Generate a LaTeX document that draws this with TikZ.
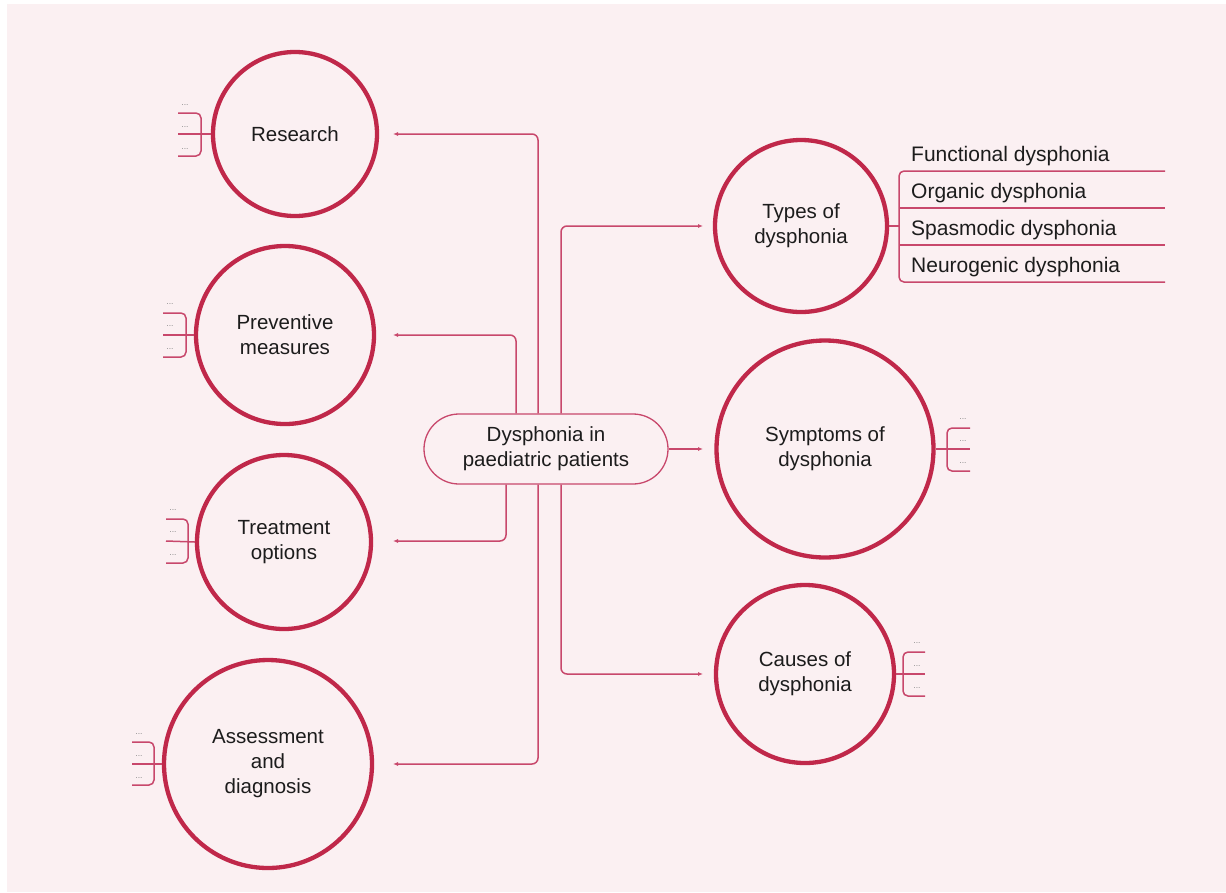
\documentclass[tikz,border=0pt]{standalone}
\usepackage{fontspec}
\setmainfont{Liberation Sans}
\usetikzlibrary{arrows.meta,calc}

\definecolor{bgpink}{RGB}{251,240,242}
\definecolor{ring}{RGB}{192,40,74}
\definecolor{link}{RGB}{200,72,108}
\definecolor{dots}{RGB}{135,135,135}
\definecolor{ink}{RGB}{28,28,28}

\begin{document}
\begin{tikzpicture}[x=1pt,y=-1pt,
  topic/.style={circle,draw=ring,line width=4.3pt,fill=bgpink,align=center,
    inner sep=0pt,text=ink,font=\fontsize{20.5}{25}\selectfont},
  hubbox/.style={rectangle,draw=link,line width=1.3pt,rounded corners=35pt,
    minimum width=244pt,minimum height=70pt,fill=bgpink,align=center,
    text=ink,font=\fontsize{20.5}{25}\selectfont},
  conn/.style={draw=link,line width=1.5pt,rounded corners=6pt,
    -{Latex[length=5pt,width=4pt]}},
  brace/.style={draw=link,line width=1.5pt,rounded corners=5pt},
  more/.style={inner sep=0pt,text=dots,font=\fontsize{8.5}{8.5}\selectfont},
  item/.style={inner sep=0pt,anchor=base west,text=ink,
    font=\fontsize{21}{25}\selectfont}
]
\useasboundingbox (0,0) rectangle (1226,892);
\fill[white] (0,0) rectangle (1226,892);
\fill[bgpink] (7,4) rectangle (1226,892);

% central topic
\node[hubbox] (hub) at (546,449) {Dysphonia in\\paediatric patients};

% main topics
\node[topic,minimum size=164pt] (research)  at (295,134) {Research};
\node[topic,minimum size=178pt] (prevent)   at (285,335) {Preventive\\measures};
\node[topic,minimum size=174pt] (treat)     at (284,542) {Treatment\\options};
\node[topic,minimum size=208pt] (assess)    at (268,764) {Assessment\\and\\diagnosis};
\node[topic,minimum size=172pt] (types)     at (801,226) {Types of\\dysphonia};
\node[topic,minimum size=217pt] (symptoms)  at (825,449) {Symptoms of\\dysphonia};
\node[topic,minimum size=178pt] (causes)    at (805,674) {Causes of\\dysphonia};

% connector end points beside each topic
\coordinate (researchIn) at (393,134);
\coordinate (preventIn)  at (393,335);
\coordinate (treatIn)    at (393,541);
\coordinate (assessIn)   at (393,764);
\coordinate (typesIn)    at (703,226);
\coordinate (symptomsIn) at (703,449);
\coordinate (causesIn)   at (703,674);

% connectors from the central topic
\draw[conn] ($(hub.north)+(-8,0)$)  |- (researchIn);
\draw[conn] ($(hub.north)+(-30,0)$) |- (preventIn);
\draw[conn] ($(hub.south)+(-40,0)$) |- (treatIn);
\draw[conn] ($(hub.south)+(-8,0)$)  |- (assessIn);
\draw[conn] ($(hub.north)+(15,0)$)  |- (typesIn);
\draw[conn] (hub.east) -- (symptomsIn);
\draw[conn] ($(hub.south)+(15,0)$)  |- (causesIn);

% sub-branches of Research
\draw[brace] (178,113) -- (201,113) -- (201,156) -- (178,156);
\draw[brace] (178,134) -- (research.west);
\node[more] (r1) at (185,105) {...};
\node[more] (r2) at (185,127) {...};
\node[more] (r3) at (185,149) {...};

% sub-branches of Preventive measures
\draw[brace] (163,313) -- (186,313) -- (186,357) -- (163,357);
\draw[brace] (163,335) -- (prevent.west);
\node[more] (p1) at (170,304) {...};
\node[more] (p2) at (170,326) {...};
\node[more] (p3) at (170,349) {...};

% sub-branches of Treatment options
\draw[brace] (166,519) -- (188,519) -- (188,563) -- (166,563);
\draw[brace] (166,541) -- (treat.west);
\node[more] (t1) at (173,510) {...};
\node[more] (t2) at (173,532) {...};
\node[more] (t3) at (173,555) {...};

% sub-branches of Assessment and diagnosis
\draw[brace] (132,742) -- (154,742) -- (154,785) -- (132,785);
\draw[brace] (132,764) -- (assess.west);
\node[more] (a1) at (139,734) {...};
\node[more] (a2) at (139,756) {...};
\node[more] (a3) at (139,778) {...};

% sub-branches of Symptoms of dysphonia
\draw[brace] (970,428) -- (947,428) -- (947,471) -- (970,471);
\draw[brace] (symptoms.east) -- (970,449);
\node[more] (s1) at (963,419) {...};
\node[more] (s2) at (963,441) {...};
\node[more] (s3) at (963,463) {...};

% sub-branches of Causes of dysphonia
\draw[brace] (925,652) -- (903,652) -- (903,696) -- (925,696);
\draw[brace] (causes.east) -- (925,674);
\node[more] (c1) at (917,643) {...};
\node[more] (c2) at (917,666) {...};
\node[more] (c3) at (917,688) {...};

% types of dysphonia
\draw[brace] (1165,171) -- (899,171) -- (899,282) -- (1165,282);
\draw[brace] (899,208) -- (1165,208);
\draw[brace] (899,245) -- (1165,245);
\draw[brace] (types.east) -- (899,226);
\node[item] (k1) at (911,161) {Functional dysphonia};
\node[item] (k2) at (911,198) {Organic dysphonia};
\node[item] (k3) at (911,235) {Spasmodic dysphonia};
\node[item] (k4) at (911,272) {Neurogenic dysphonia};
\end{tikzpicture}
\end{document}
